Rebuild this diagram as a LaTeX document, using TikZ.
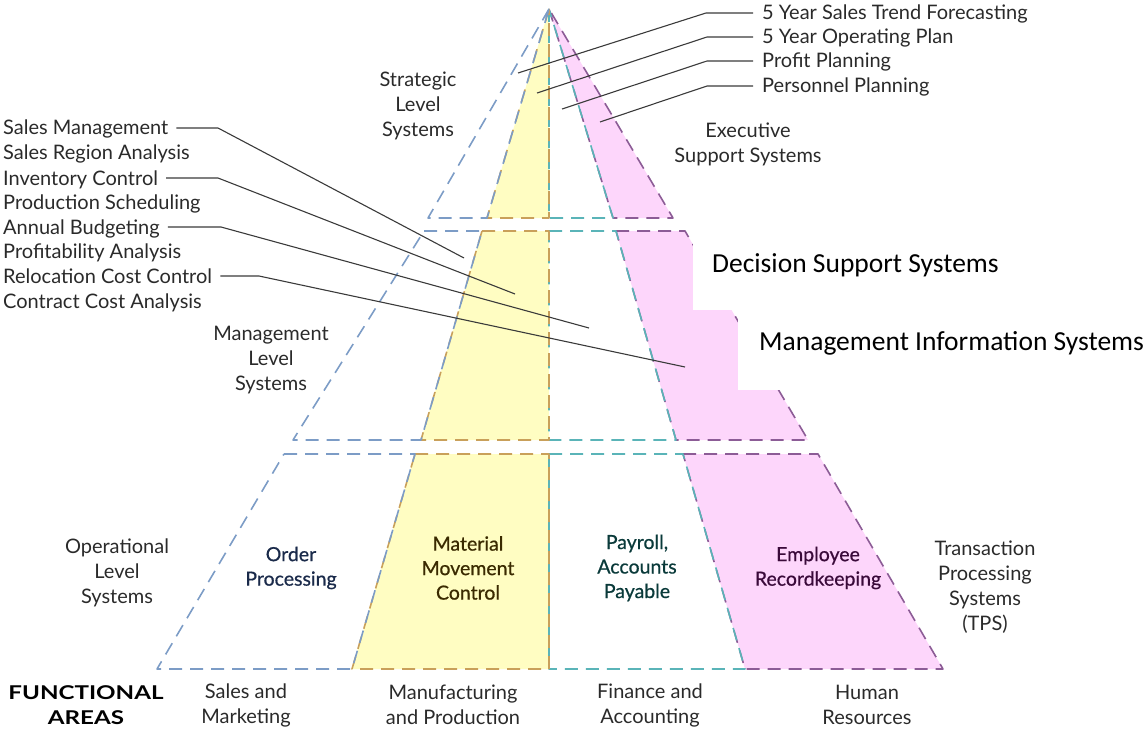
\documentclass[tikz,border=0pt]{standalone}
\usepackage{fontspec}
\setmainfont{Lato}
\newfontfamily\calibri{Carlito}
\newfontfamily\medfont{Lato}[FakeBold=0.6]
\definecolor{cblue}{HTML}{7C9CC6}
\definecolor{corange}{HTML}{C9A05A}
\definecolor{cteal}{HTML}{5AB4B8}
\definecolor{cpurple}{HTML}{8C5C96}
\definecolor{fyellow}{HTML}{FFFDC2}
\definecolor{fpink}{HTML}{FDD6FB}
\definecolor{txt}{HTML}{2A2A2A}
\definecolor{lead}{HTML}{3A3A3A}
\definecolor{tnavy}{HTML}{1A2A4A}
\definecolor{tbrown}{HTML}{3A2A00}
\definecolor{tteal}{HTML}{0A3A3A}
\definecolor{tplum}{HTML}{3A0A3A}
\begin{document}
\begin{tikzpicture}[x=1pt,y=-1pt,
  col/.style={dash pattern=on 13pt off 8pt, line width=1.6pt, line join=round},
  bl/.style={col, draw=cblue},
  ol/.style={col, draw=corange},
  tl/.style={col, draw=cteal},
  pl/.style={col, draw=cpurple},
  yf/.style={fill=fyellow},
  pf/.style={fill=fpink},
  txtbase/.style={font=\fontsize{20}{25}\selectfont, text=txt, inner sep=0pt},
  item/.style={txtbase, text height=14pt, text depth=0pt},
  multi/.style={txtbase, align=center},
  cell/.style={font=\medfont\fontsize{19.5}{24.5}\selectfont, inner sep=0pt, align=center},
  calib/.style={font=\calibri\fontsize{27.5}{32}\selectfont, text=black, inner sep=0pt, anchor=west},
  leader/.style={draw=lead, line width=1.1pt},
]
\useasboundingbox (0,0) rectangle (1148,733);

% ---------- fills ----------
% top tier
\fill[yf] (549,9) -- (487,218) -- (549,218) -- cycle;
\fill[pf] (549,9) -- (613,218) -- (673,218) -- cycle;
% middle tier
\fill[yf] (482,231) -- (549,231) -- (549,440) -- (421,440) -- cycle;
\fill[pf] (616,231) -- (685,231) -- (808,440) -- (676,440) -- cycle;
% bottom tier
\fill[yf] (415,454) -- (549,454) -- (549,669) -- (352,669) -- cycle;
\fill[pf] (683,454) -- (818,454) -- (943,669) -- (745,669) -- cycle;

% ---------- outlines (right column first) ----------
% top tier
\draw[pl] (549,9) -- (613,218) -- (673,218) -- cycle;
\draw[tl] (549,9) -- (549,218) -- (613,218) -- cycle;
\draw[ol] (549,9) -- (487,218) -- (549,218) -- cycle;
\draw[bl] (549,9) -- (428,218) -- (487,218) -- cycle;
% middle tier
\draw[pl] (616,231) -- (685,231) -- (808,440) -- (676,440) -- cycle;
\draw[tl] (549,231) -- (616,231) -- (676,440) -- (549,440) -- cycle;
\draw[ol] (482,231) -- (549,231) -- (549,440) -- (421,440) -- cycle;
\draw[bl] (424,231) -- (482,231) -- (421,440) -- (293,440) -- cycle;
% bottom tier
\draw[pl] (683,454) -- (818,454) -- (943,669) -- (745,669) -- cycle;
\draw[tl] (549,454) -- (683,454) -- (745,669) -- (549,669) -- cycle;
\draw[ol] (415,454) -- (549,454) -- (549,669) -- (352,669) -- cycle;
\draw[bl] (284,454) -- (415,454) -- (352,669) -- (157,669) -- cycle;

% ---------- white label boxes over the middle pink area ----------
\fill[white] (693,226) rectangle (1012,310);
\fill[white] (738,310) rectangle (1148,390);

% ---------- leader targets ----------
\coordinate (e1) at (464,258);
\coordinate (e2) at (515,294);
\coordinate (e3) at (589,328);
\coordinate (e4) at (685,367);
\coordinate (k1) at (218,0);
\coordinate (k2) at (218,0);
\coordinate (k3) at (221,0);
\coordinate (k4) at (259,0);
\coordinate (t1) at (518,73);
\coordinate (t2) at (537,93);
\coordinate (t3) at (562,109);
\coordinate (t4) at (600,122);
\coordinate (j1) at (706,0);
\coordinate (j2) at (707,0);
\coordinate (j3) at (707,0);
\coordinate (j4) at (707,0);

% ---------- left list ----------
\node[item,anchor=west] (l1) at (3,128) {Sales Management};
\node[item,anchor=west] (l2) at (3,153) {Sales Region Analysis};
\node[item,anchor=west] (l3) at (3,178) {Inventory Control};
\node[item,anchor=west] (l4) at (3,202) {Production Scheduling};
\node[item,anchor=west] (l5) at (3,227) {Annual Budgeting};
\node[item,anchor=west] (l6) at (3,251) {Profitability Analysis};
\node[item,anchor=west] (l7) at (3,276) {Relocation Cost Control};
\node[item,anchor=west] (l8) at (3,301) {Contract Cost Analysis};

% ---------- right list ----------
\node[item,anchor=west] (r1) at (762,13) {5 Year Sales Trend Forecasting};
\node[item,anchor=west] (r2) at (762,37) {5 Year Operating Plan};
\node[item,anchor=west] (r3) at (762,61) {Profit Planning};
\node[item,anchor=west] (r4) at (762,86) {Personnel Planning};

% ---------- leaders ----------
\draw[leader] ([xshift=8pt]l1.east) -- (l1.east -| k1) -- (e1);
\draw[leader] ([xshift=8pt]l3.east) -- (l3.east -| k2) -- (e2);
\draw[leader] ([xshift=8pt]l5.east) -- (l5.east -| k3) -- (e3);
\draw[leader] ([xshift=8pt]l7.east) -- (l7.east -| k4) -- (e4);
\draw[leader] ([xshift=-9pt]r1.west) -- (r1.west -| j1) -- (t1);
\draw[leader] ([xshift=-9pt]r2.west) -- (r2.west -| j2) -- (t2);
\draw[leader] ([xshift=-9pt]r3.west) -- (r3.west -| j3) -- (t3);
\draw[leader] ([xshift=-9pt]r4.west) -- (r4.west -| j4) -- (t4);

% ---------- level labels ----------
\node[multi] (strat) at (418,106) {Strategic\\Level\\Systems};
\node[multi] (mgmt) at (271,360) {Management\\Level\\Systems};
\node[multi] (oper) at (117,573) {Operational\\Level\\Systems};
\node[multi] (ess) at (748,144) {Executive\\Support Systems};
\node[multi] (tps) at (985,587) {Transaction\\Processing\\Systems\\(TPS)};
\node[calib] (dss) at (712,265) {Decision Support Systems};
\node[calib] (mis) at (759,343) {Management Information Systems};

% ---------- cell labels ----------
\node[cell,text=tnavy] (op) at (291,568) {Order\\Processing};
\node[cell,text=tbrown] (mmc) at (468,568) {Material\\Movement\\Control};
\node[cell,text=tteal] (pap) at (637,568) {Payroll,\\Accounts\\Payable};
\node[cell,text=tplum] (er) at (818,568) {Employee\\Recordkeeping};

% ---------- functional areas ----------
\node[txtbase, text=black, align=center, font=\bfseries\fontsize{19}{25}\selectfont] (fa) at (86,705) {\scalebox{1.27}[1]{FUNCTIONAL}\\\scalebox{1.27}[1]{AREAS}};
\node[multi] (sm) at (246,705) {Sales and\\Marketing};
\node[multi] (mp) at (453,705) {Manufacturing\\and Production};
\node[multi] (fin) at (650,705) {Finance and\\Accounting};
\node[multi] (hr) at (867,705) {Human\\Resources};
\end{tikzpicture}
\end{document}
